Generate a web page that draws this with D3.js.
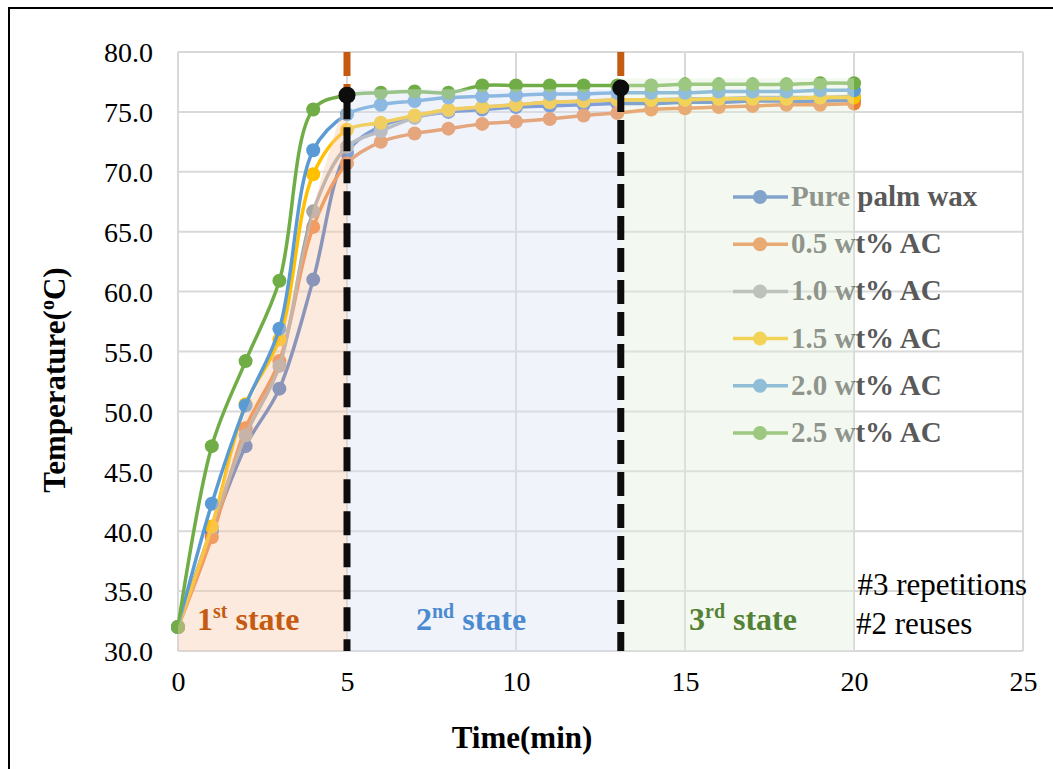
<!DOCTYPE html>
<html>
<head>
<meta charset="utf-8">
<script src="https://cdn.jsdelivr.net/npm/d3@7"></script>
<style>
  body { margin: 0; background: #fff; }
  text { font-family: "Liberation Serif", "Times New Roman", serif; }
</style>
</head>
<body>
<svg id="chart" width="1053" height="769"></svg>
<script>
// time in minutes
const times = [0, 1, 2, 3, 4, 5, 6, 7, 8, 9, 10, 11, 12, 13, 14, 15, 16, 17, 18, 19, 20];

const seriesNames = ["Pure palm wax", "0.5 wt% AC", "1.0 wt% AC", "1.5 wt% AC", "2.0 wt% AC", "2.5 wt% AC"];
const seriesColors = ["#4472C4", "#ED7D31", "#A5A5A5", "#FFC000", "#5B9BD5", "#70AD47"];

const purePalmWax = [32.0, 40.0, 47.1, 51.9, 61.0, 71.6, 73.8, 74.6, 75.0, 75.2, 75.4, 75.5, 75.6, 75.7, 75.7, 75.8, 75.8, 75.9, 75.9, 75.9, 76.0];
const ac05 = [32.0, 39.5, 48.6, 54.2, 65.4, 70.7, 72.5, 73.2, 73.6, 74.0, 74.2, 74.4, 74.7, 74.9, 75.2, 75.3, 75.4, 75.5, 75.6, 75.6, 75.7];
const ac10 = [32.0, 40.3, 48.0, 53.8, 66.7, 72.1, 73.4, 74.5, 75.1, 75.4, 75.6, 75.8, 75.9, 76.0, 76.0, 76.1, 76.1, 76.2, 76.2, 76.2, 76.3];
const ac15 = [32.0, 40.4, 50.6, 56.0, 69.8, 73.5, 74.1, 74.7, 75.2, 75.4, 75.6, 75.8, 75.9, 76.0, 76.0, 76.0, 76.1, 76.1, 76.1, 76.2, 76.2];
const ac20 = [32.0, 42.3, 50.5, 56.9, 71.8, 74.8, 75.6, 75.9, 76.2, 76.3, 76.4, 76.5, 76.5, 76.6, 76.6, 76.6, 76.7, 76.7, 76.7, 76.8, 76.8];
const ac25 = [32.0, 47.1, 54.2, 60.9, 75.2, 76.4, 76.6, 76.7, 76.6, 77.2, 77.2, 77.2, 77.2, 77.2, 77.2, 77.3, 77.3, 77.3, 77.3, 77.4, 77.4];
const allSeries = [purePalmWax, ac05, ac10, ac15, ac20, ac25];

// shaded states
const state1Times = [0, 1, 2, 3, 4, 5];
const state1Top = [32.0, 41.0, 50.0, 56.0, 67.0, 76.6];
const state2Times = [5, 13.1];
const state2Top = [76.9, 76.9];
const state3Times = [13.1, 20];
const state3Top = [77.8, 77.8];

// dashed markers between states
const boundaryTimes = [5, 13.1];
const boundaryTemps = [76.4, 77.0];

const xTicks = [0, 5, 10, 15, 20, 25];
const yTicks = [30, 35, 40, 45, 50, 55, 60, 65, 70, 75, 80];

const svg = d3.select("#chart");

// outer frame
svg.append("rect")
    .attr("x", 9).attr("y", 8)
    .attr("width", 1100).attr("height", 900)
    .attr("fill", "none")
    .attr("stroke", "#000")
    .attr("stroke-width", 2);

const x = d3.scaleLinear().domain([0, 25]).range([178, 1023]);
const y = d3.scaleLinear().domain([30, 80]).range([651, 52]);

// grid
const grid = svg.append("g");
grid.selectAll("line.h").data(yTicks).enter().append("line")
    .attr("x1", x(0)).attr("x2", x(25))
    .attr("y1", d => y(d)).attr("y2", d => y(d))
    .attr("stroke", "#D9D9D9").attr("stroke-width", 2);
grid.selectAll("line.v").data(xTicks).enter().append("line")
    .attr("x1", d => x(d)).attr("x2", d => x(d))
    .attr("y1", y(30)).attr("y2", y(80))
    .attr("stroke", "#D9D9D9").attr("stroke-width", 2);

// axes labels
const yAxis = svg.append("g")
    .attr("transform", "translate(" + 153 + ",0)")
    .call(d3.axisLeft(y).tickValues(yTicks).tickSize(0).tickPadding(0).tickFormat(d3.format(".1f")));
yAxis.select(".domain").remove();
yAxis.selectAll("text")
    .attr("font-size", 28)
    .attr("fill", "#000")
    .attr("dy", "0.35em")
    .style("font-family", "Liberation Serif");

const xAxis = svg.append("g")
    .attr("transform", "translate(0," + 651 + ")")
    .call(d3.axisBottom(x).tickValues(xTicks).tickSize(0).tickPadding(0));
xAxis.select(".domain").remove();
xAxis.selectAll("text")
    .attr("font-size", 28)
    .attr("fill", "#000")
    .attr("y", 30)
    .attr("dy", "0.35em")
    .style("font-family", "Liberation Serif");

svg.append("text")
    .attr("x", 522).attr("y", 748)
    .attr("text-anchor", "middle")
    .attr("font-size", 31).attr("font-weight", "bold")
    .text("Time(min)");

const yTitle = svg.append("text")
    .attr("transform", "translate(" + 65 + "," + 380 + ") rotate(-90)")
    .attr("text-anchor", "middle")
    .attr("font-size", 31).attr("font-weight", "bold");
yTitle.append("tspan").text("Temperature(");
yTitle.append("tspan").attr("font-size", 20).attr("dy", -11).text("o");
yTitle.append("tspan").attr("dy", 11).text("C)");

// series lines
const line = d3.line()
    .x((d, i) => x(times[i]))
    .y(d => y(d))
    .curve(d3.curveCatmullRom.alpha(0.5));

const plot = svg.append("g");
allSeries.forEach((vals, s) => {
    plot.append("path")
        .attr("d", line(vals))
        .attr("fill", "none")
        .attr("stroke", seriesColors[s])
        .attr("stroke-width", 3.5);
    plot.selectAll(null).data(vals).enter().append("circle")
        .attr("cx", (d, i) => x(times[i]))
        .attr("cy", d => y(d))
        .attr("r", 7)
        .attr("fill", seriesColors[s]);
});

// legend
const legend = svg.append("g");
seriesNames.forEach((name, i) => {
    let ly = 197 + i * 47.2;
    legend.append("line")
        .attr("x1", 733).attr("x2", 788)
        .attr("y1", ly).attr("y2", ly)
        .attr("stroke", seriesColors[i]).attr("stroke-width", 3.5);
    legend.append("circle")
        .attr("cx", 760).attr("cy", ly).attr("r", 7)
        .attr("fill", seriesColors[i]);
    legend.append("text")
        .attr("x", 791).attr("y", ly + 9)
        .attr("font-size", 29).attr("font-weight", "bold")
        .attr("fill", "#595959")
        .text(name);
});

// state shading, drawn over the lines
function stateArea(ts, tops, color) {
    let area = d3.area()
        .x((d, i) => x(ts[i]))
        .y0(y(30))
        .y1(d => y(d))
        .curve(d3.curveCatmullRom.alpha(0.5));
    svg.append("path")
        .attr("d", area(tops))
        .attr("fill", color)
        .attr("fill-opacity", 0.4);
}
stateArea(state1Times, state1Top, "#F8CBAD");
stateArea(state2Times, state2Top, "#DAE3F3");
stateArea(state3Times, state3Top, "#E2EFDA");

// boundary markers
boundaryTimes.forEach((t, i) => {
    svg.append("line")
        .attr("x1", x(t)).attr("x2", x(t))
        .attr("y1", y(80)).attr("y2", y(boundaryTemps[i]))
        .attr("stroke", "#C55A11").attr("stroke-width", 7)
        .attr("stroke-dasharray", "24,8");
    svg.append("line")
        .attr("x1", x(t)).attr("x2", x(t))
        .attr("y1", y(boundaryTemps[i])).attr("y2", y(30))
        .attr("stroke", "#0D0D0D").attr("stroke-width", 7)
        .attr("stroke-dasharray", "24,8");
    svg.append("circle")
        .attr("cx", x(t)).attr("cy", y(boundaryTemps[i]))
        .attr("r", 8.5).attr("fill", "#0D0D0D");
});

// state labels
function stateLabel(px, num, sup, color) {
    let t = svg.append("text")
        .attr("x", px).attr("y", 630)
        .attr("font-size", 32).attr("font-weight", "bold")
        .attr("fill", color);
    t.append("tspan").text(num);
    t.append("tspan").attr("font-size", 20).attr("dy", -12).text(sup);
    t.append("tspan").attr("dy", 12).text(" state");
}
stateLabel(197, "1", "st", "#C55A11");
stateLabel(416, "2", "nd", "#4A8AD0");
stateLabel(689, "3", "rd", "#538135");

svg.append("text")
    .attr("x", 1027).attr("y", 595)
    .attr("text-anchor", "end")
    .attr("font-size", 31)
    .text("#3 repetitions");
svg.append("text")
    .attr("x", 856).attr("y", 634)
    .attr("font-size", 31)
    .text("#2 reuses");
</script>
</body>
</html>
